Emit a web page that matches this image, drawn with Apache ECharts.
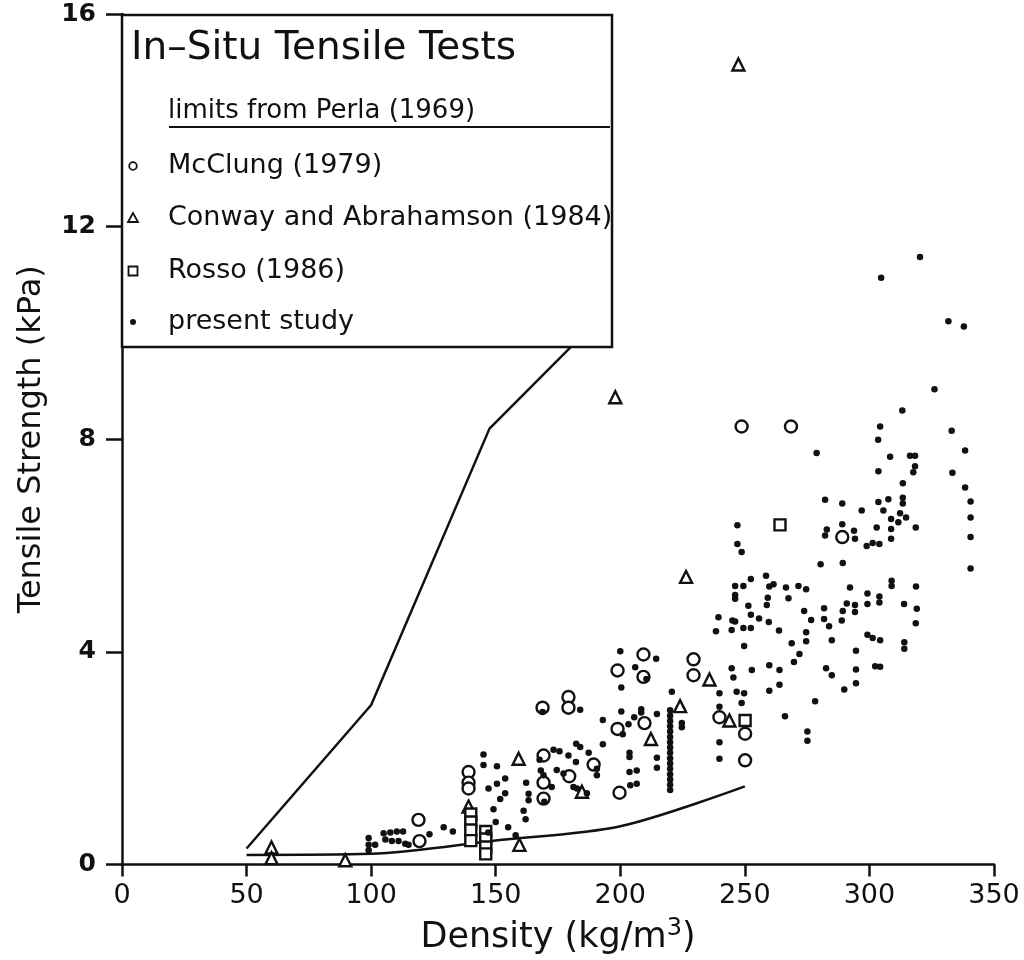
<!DOCTYPE html>
<html>
<head>
<meta charset="utf-8">
<script src="https://cdn.jsdelivr.net/npm/echarts@6/dist/echarts.min.js"></script>
<style>
html,body{margin:0;padding:0;background:#fff;}
#chart{width:1024px;height:960px;}
</style>
</head>
<body>
<div id="chart"></div>
<script>
const xTicks = [0, 50, 100, 150, 200, 250, 300, 350];
const yTicks = [0, 4, 8, 12, 16];

const perlaUpper = [[50,0.3],[100,3.0],[147.5,8.2],[190,10.2]];
const perlaLower = [[50,0.18],[100,0.2],[150,0.45],[200,0.72],[250,1.47]];

const mcClung = [[119.0,0.84],[119.4,0.44],[139.1,1.74],[139.1,1.54],[139.1,1.43],[168.8,2.95],[169.2,2.05],[169.2,1.54],[169.2,1.24],[179.2,3.15],[179.2,2.95],[179.5,1.66],[189.3,1.88],[198.9,3.65],[198.9,2.55],[199.7,1.35],[209.3,3.95],[209.3,3.53],[209.7,2.66],[229.4,3.86],[229.4,3.56],[239.8,2.77],[250.1,2.46],[250.1,1.96],[248.7,8.24],[268.5,8.24],[289.1,6.16]];

const conway = [[60,0.32],[60,0.12],[89.6,0.08],[139.1,1.09],[159.5,0.37],[159.2,1.99],[184.6,1.37],[212.3,2.36],[224.0,2.98],[226.4,5.41],[235.8,3.48],[243.8,2.71],[198.0,8.79],[247.4,15.05]];

const rosso = [[140,0.95],[140,0.8],[140,0.65],[140,0.45],[146,0.62],[146,0.48],[146,0.33],[146,0.2],[264.1,6.39],[250.1,2.71]];

const presentStudy = [
[326.1,8.94],[313.2,8.54],[304.3,8.24],[303.5,7.99],[333.0,8.16],[338.4,7.79],[278.8,7.74],[308.3,7.67],[316.3,7.69],[318.3,7.69],[318.3,7.49],[317.6,7.38],[303.6,7.40],[333.3,7.37],[313.4,7.17],[338.4,7.09],[282.2,6.86],[289.1,6.79],[296.9,6.66],[303.6,6.82],[307.6,6.87],[313.4,6.90],[313.4,6.79],[305.6,6.66],[340.6,6.83],[312.3,6.61],[314.7,6.53],[308.7,6.50],[311.6,6.44],[340.6,6.53],[247.0,6.38],[282.9,6.30],[282.2,6.19],[289.1,6.40],[293.8,6.28],[294.2,6.13],[302.9,6.34],[308.7,6.31],[318.6,6.34],[247.0,6.03],[248.7,5.88],[298.9,5.99],[301.3,6.05],[304.0,6.03],[308.7,6.13],[340.6,6.16],[280.4,5.65],[289.3,5.67],[340.6,5.57],[246.1,5.24],[249.4,5.24],[252.4,5.37],[258.5,5.43],[259.8,5.23],[261.5,5.27],[266.5,5.21],[271.5,5.24],[274.6,5.18],[246.1,5.07],[246.1,5.00],[251.4,4.87],[259.2,5.02],[258.8,4.88],[267.5,5.01],[292.2,5.21],[299.2,5.10],[304.0,5.04],[304.0,4.93],[308.9,5.34],[308.9,5.24],[318.7,5.23],[239.4,4.65],[245.0,4.59],[246.1,4.57],[249.4,4.45],[252.4,4.70],[252.4,4.45],[255.7,4.63],[259.6,4.56],[273.8,4.77],[276.6,4.60],[281.8,4.82],[281.8,4.62],[283.8,4.48],[288.9,4.59],[289.3,4.77],[290.9,4.91],[294.2,4.88],[294.2,4.75],[299.2,4.90],[313.9,4.90],[319.0,4.81],[318.6,4.54],[238.4,4.39],[244.7,4.41],[263.7,4.40],[274.6,4.37],[274.6,4.20],[284.9,4.22],[268.8,4.16],[271.9,3.96],[249.7,4.11],[299.2,4.32],[301.3,4.26],[304.3,4.22],[314.0,4.18],[314.0,4.06],[294.6,4.02],[269.7,3.81],[244.7,3.69],[252.8,3.66],[259.8,3.75],[263.9,3.66],[245.4,3.52],[259.8,3.27],[263.9,3.38],[246.7,3.25],[249.7,3.22],[248.7,3.04],[239.8,3.22],[239.8,2.97],[282.6,3.69],[284.9,3.56],[294.6,3.67],[294.6,3.41],[289.9,3.29],[302.3,3.73],[304.3,3.72],[278.2,3.07],[266.1,2.79],[275.1,2.50],[275.1,2.33],[239.8,2.30],[239.8,1.99],[224.7,2.66],
[320.3,11.43],[304.7,11.04],[331.7,10.22],[337.9,10.12],
[200.0,4.01],[214.4,3.87],[206.0,3.71],[210.5,3.49],[200.4,3.33],[220.7,3.25],[183.9,2.91],[200.4,2.88],[208.4,2.92],[208.4,2.86],[214.7,2.83],[193.0,2.72],[203.3,2.64],[205.6,2.77],[224.7,2.58],[193.0,2.26],[182.3,2.27],[183.9,2.21],[187.3,2.10],[173.2,2.16],[175.6,2.13],[179.2,2.05],[182.2,1.93],[203.7,2.10],[203.7,2.02],[214.7,2.01],[214.7,1.82],[145.1,2.07],[145.1,1.87],[150.5,1.85],[153.8,1.62],[167.6,1.97],[168.1,1.77],[169.2,1.68],[174.5,1.78],[177.2,1.71],[203.7,1.74],[206.6,1.77],[190.6,1.68],[162.2,1.54],[147.1,1.43],[150.5,1.52],[153.8,1.34],[151.8,1.23],[163.2,1.33],[163.2,1.21],[172.5,1.46],[181.2,1.46],[182.6,1.43],[204.0,1.49],[206.6,1.52],[149.1,1.04],[161.2,1.01],[168.8,2.87],[201.0,2.45],[190.6,1.80],[169.5,1.18],[186.6,1.34],
[220,2.90],[220,2.80],[220,2.70],[220,2.60],[220,2.50],[220,2.40],[220,2.30],[220,2.20],[220,2.10],[220,2.00],[220,1.90],[220,1.80],[220,1.70],[220,1.60],[220,1.50],[220,1.40],
[99.0,0.50],[99.0,0.37],[99.0,0.27],[101.6,0.37],[105.0,0.59],[107.7,0.60],[110.3,0.62],[112.8,0.62],[105.7,0.47],[108.3,0.44],[111.0,0.44],[113.7,0.39],[115.0,0.37],[123.4,0.57],[129.1,0.70],[132.8,0.62],
[150,0.80],[155,0.70],[147,0.60],[162,0.85],[158,0.55]
];

const FONT = 'DejaVu Sans';
const chart = echarts.init(document.getElementById('chart'));

function scatter(name, data, symbol, size, filled) {
  return {
    name: name, type: 'scatter', data: data, symbol: symbol, symbolSize: size,
    itemStyle: filled ? {color: '#111', opacity: 1} : {color: '#fff', borderColor: '#111', borderWidth: 2.4, opacity: 1},
    z: 3, silent: true
  };
}

const legendItems = [
  {text: 'McClung (1979)', y: 166, sym: 'circle'},
  {text: 'Conway and Abrahamson (1984)', y: 218, sym: 'triangle'},
  {text: 'Rosso (1986)', y: 271, sym: 'rect'},
  {text: 'present study', y: 322, sym: 'dot'}
];

const graphics = [
  {type: 'rect', shape: {x: 122, y: 15, width: 490, height: 332}, style: {fill: '#fff', stroke: '#111', lineWidth: 2.5}, z: 100},
  {type: 'text', x: 131, y: 49, style: {text: 'In\u2013Situ Tensile Tests', font: '39px "' + FONT + '"', fill: '#111', textVerticalAlign: 'middle'}, z: 101},
  {type: 'text', x: 168, y: 111, style: {text: 'limits from Perla (1969)', font: '26px "' + FONT + '"', fill: '#111', textVerticalAlign: 'middle'}, z: 101},
  {type: 'line', shape: {x1: 169, y1: 127, x2: 610, y2: 127}, style: {stroke: '#111', lineWidth: 2}, z: 101}
];
legendItems.forEach(function (it) {
  graphics.push({type: 'text', x: 168, y: it.y, style: {text: it.text, font: '27px "' + FONT + '"', fill: '#111', textVerticalAlign: 'middle'}, z: 101});
  const cx = 133, cy = it.y;
  if (it.sym === 'circle') graphics.push({type: 'circle', shape: {cx: cx, cy: cy, r: 3.8}, style: {fill: '#fff', stroke: '#111', lineWidth: 1.8}, z: 101});
  if (it.sym === 'triangle') graphics.push({type: 'polygon', shape: {points: [[cx, cy - 5], [cx - 5, cy + 4], [cx + 5, cy + 4]]}, style: {fill: '#fff', stroke: '#111', lineWidth: 1.8}, z: 101});
  if (it.sym === 'rect') graphics.push({type: 'rect', shape: {x: cx - 4.5, y: cy - 4.5, width: 9, height: 9}, style: {fill: '#fff', stroke: '#111', lineWidth: 1.8}, z: 101});
  if (it.sym === 'dot') graphics.push({type: 'circle', shape: {cx: cx, cy: cy, r: 3}, style: {fill: '#111'}, z: 101});
});

chart.setOption({
  animation: false,
  backgroundColor: '#fff',
  grid: {left: 122, right: 30, top: 14, bottom: 88},
  xAxis: {
    type: 'value', min: 0, max: 350, interval: 50,
    name: '{a|Density (kg/m}{s|3}{a|)}', nameLocation: 'middle', nameGap: 52,
    nameTextStyle: {rich: {a: {fontFamily: FONT, fontSize: 35, color: '#111'}, s: {fontFamily: FONT, fontSize: 24, color: '#111', padding: [0, 0, 18, 0]}}},
    axisLine: {show: true, lineStyle: {color: '#111', width: 2.5}},
    axisTick: {show: true, inside: false, length: 12, lineStyle: {color: '#111', width: 2.5}},
    axisLabel: {fontFamily: FONT, fontSize: 27, color: '#111', margin: 18, formatter: function (v) { return xTicks.indexOf(v) >= 0 ? String(v) : ''; }},
    splitLine: {show: false}
  },
  yAxis: {
    type: 'value', min: 0, max: 16, interval: 4,
    name: 'Tensile Strength (kPa)', nameLocation: 'middle', nameGap: 74, nameRotate: 90,
    nameTextStyle: {fontFamily: FONT, fontSize: 32, color: '#111'},
    axisLine: {show: true, lineStyle: {color: '#111', width: 2.5}},
    axisTick: {show: true, inside: false, length: 16, lineStyle: {color: '#111', width: 2.5}},
    axisLabel: {fontFamily: FONT, fontSize: 25, fontWeight: 'bold', color: '#111', margin: 26, formatter: function (v) { return yTicks.indexOf(v) >= 0 ? String(v) : ''; }},
    splitLine: {show: false}
  },
  series: [
    {name: 'Perla upper', type: 'line', data: perlaUpper, symbol: 'none', lineStyle: {color: '#111', width: 2.5}, z: 2, silent: true},
    {name: 'Perla lower', type: 'line', data: perlaLower, symbol: 'none', smooth: 0.3, lineStyle: {color: '#111', width: 2.5}, z: 2, silent: true},
    scatter('McClung (1979)', mcClung, 'circle', 12, false),
    scatter('Conway and Abrahamson (1984)', conway, 'triangle', 12, false),
    scatter('Rosso (1986)', rosso, 'rect', 11, false),
    scatter('present study', presentStudy, 'circle', 6.5, true)
  ],
  graphic: {elements: graphics}
});
</script>
</body>
</html>
